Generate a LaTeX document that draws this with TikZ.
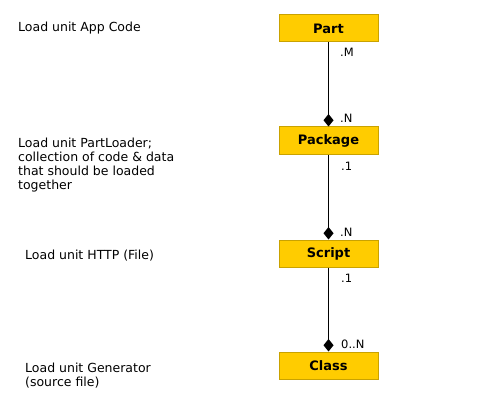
\documentclass[tikz,border=0pt]{standalone}
\usepackage{fontspec}
\setmainfont{DejaVu Sans}
\usetikzlibrary{arrows.meta}
\definecolor{boxfill}{HTML}{FFCC00}
\definecolor{boxline}{HTML}{C9A200}
\tikzset{>=latex}
\tikzset{unitbox/.style={draw=boxline,fill=boxfill,line width=1pt,minimum width=99pt,minimum height=27pt,inner sep=0pt,font=\fontsize{13}{14}\selectfont\bfseries}}
\tikzset{note/.style={anchor=base west,align=left,inner sep=0pt,font=\fontsize{12.5}{14}\selectfont}}
\tikzset{mult/.style={anchor=base west,inner sep=0pt,font=\fontsize{11.5}{14}\selectfont}}
\tikzset{owns/.style={line width=1pt,-{Diamond[length=12.5pt,width=10pt]}}}

\begin{document}
\begin{tikzpicture}[x=1pt,y=-1pt]
    \useasboundingbox (0,0) rectangle (496,412);
    \node[unitbox] (part) at (328.5,28.5) {Part};
    \node[unitbox] (package) at (328.5,140.5) {Package};
    \node[unitbox] (script) at (328.5,253.5) {Script};
    \node[unitbox] (class) at (328.5,365.5) {Class};
    \draw[owns] (part) -- (package);
    \draw[owns] (package) -- (script);
    \draw[owns] (script) -- (class);
    \node[mult] (partm) at (340,57) {.M};
    \node[mult] (packagen) at (340,123) {.N};
    \node[mult] (package1) at (341,170) {.1};
    \node[mult] (scriptn) at (340,236) {.N};
    \node[mult] (script1) at (341,282) {.1};
    \node[mult] (class0n) at (341,348) {0..N};
    \node[note] (partnote) at (18,31.7) {Load unit App Code};
    \node[note] (packagenote) at (18,189.3) {Load unit PartLoader;\\collection of code \& data\\that should be loaded\\together};
    \node[note] (scriptnote) at (25,259.3) {Load unit HTTP (File)};
    \node[note] (classnote) at (25,386) {Load unit Generator\\(source file)};
\end{tikzpicture}
\end{document}
